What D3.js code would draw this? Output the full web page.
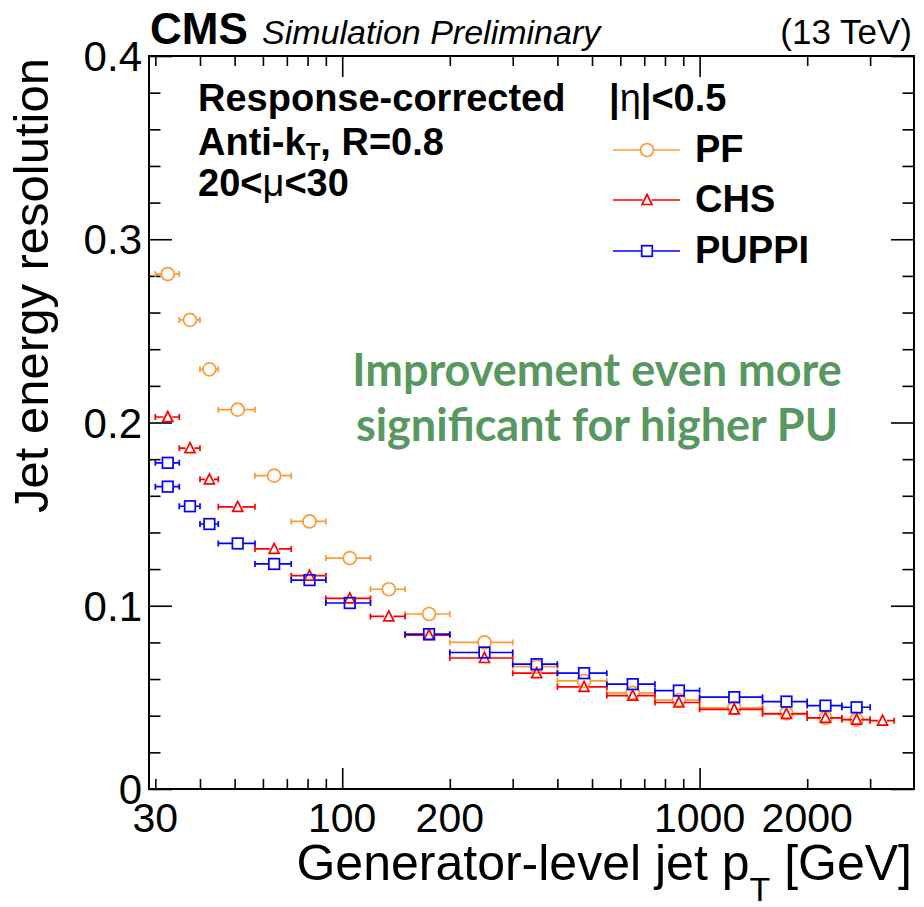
<!DOCTYPE html>
<html>
<head>
<meta charset="utf-8">
<script src="https://cdn.jsdelivr.net/npm/d3@7"></script>
<style>
  body { margin: 0; background: #fff; }
  svg text { font-family: "Liberation Sans", Arial, Helvetica, sans-serif; fill: #000; }
  .axis path { display: none; }
  .axis line { stroke: #000; stroke-width: 1.6; }
</style>
</head>
<body>
<div id="chart"></div>
<script>
// bin edges in generator-level pT [GeV]
var ptEdges = [30, 35, 40, 45, 57, 72, 90, 120, 150, 200, 300, 400, 550, 750, 1000, 1500, 2000, 2500, 3000, 3500];

// resolution per bin
var pfRes  = [0.281, 0.256, 0.229, 0.207, 0.171, 0.146, 0.126, 0.109, 0.0955, 0.080, 0.0668, 0.059, 0.0525, 0.0485, 0.0443, 0.0413, 0.0388, 0.0379];
var chsRes = [0.203, 0.186, 0.169, 0.154, 0.131, 0.1164, 0.104, 0.0942, 0.084, 0.0715, 0.0632, 0.0557, 0.051, 0.0472, 0.0435, 0.041, 0.0388, 0.0379, 0.0373];
var puppiBin = [0, 0, 1, 2, 3, 4, 5, 6, 8, 9, 10, 11, 12, 13, 14, 15, 16, 17];
var puppiRes = [0.178, 0.165, 0.1543, 0.1446, 0.134, 0.1228, 0.114, 0.1015, 0.0845, 0.0745, 0.0681, 0.0632, 0.0572, 0.0537, 0.0501, 0.0477, 0.0455, 0.0446];

// axis ticks
var xMajor  = [100, 1000];
var xMinor  = [30, 40, 50, 60, 70, 80, 90, 200, 300, 400, 500, 600, 700, 800, 900, 2000, 3000];
var xLabels = [30, 100, 200, 1000, 2000];
var yMajor  = [0, 0.1, 0.2, 0.3, 0.4];
var yMinor  = [0.02, 0.04, 0.06, 0.08, 0.12, 0.14, 0.16, 0.18, 0.22, 0.24, 0.26, 0.28, 0.32, 0.34, 0.36, 0.38];

var W = 924, H = 907;
var fL = 149, fR = 914, fT = 56, fB = 789;

var svg = d3.select("#chart").append("svg")
  .attr("width", W)
  .attr("height", H);

svg.append("rect").attr("width", W).attr("height", H).attr("fill", "#fff");

var x = d3.scaleLog().domain([28.8, 3980]).range([fL, fR]);
var y = d3.scaleLinear().domain([0, 0.4]).range([fB, fT]);

// ticks on all four sides, pointing inward
function ticks(axis, vals, size, tr) {
  svg.append("g")
    .attr("class", "axis")
    .attr("transform", tr)
    .call(axis.tickValues(vals).tickSize(-size).tickFormat(""));
}
ticks(d3.axisBottom(x), xMinor, 10, "translate(0," + fB + ")");
ticks(d3.axisBottom(x), xMajor, 21, "translate(0," + fB + ")");
ticks(d3.axisTop(x), xMinor, 10, "translate(0," + fT + ")");
ticks(d3.axisTop(x), xMajor, 21, "translate(0," + fT + ")");
ticks(d3.axisLeft(y), yMinor, 11.5, "translate(" + fL + ",0)");
ticks(d3.axisLeft(y), yMajor, 23, "translate(" + fL + ",0)");
ticks(d3.axisRight(y), yMinor, 11.5, "translate(" + fR + ",0)");
ticks(d3.axisRight(y), yMajor, 23, "translate(" + fR + ",0)");

svg.append("rect")
  .attr("x", fL).attr("y", fT)
  .attr("width", fR - fL).attr("height", fB - fT)
  .attr("fill", "none").attr("stroke", "#000").attr("stroke-width", 2);

// tick labels
svg.selectAll(".xl").data(xLabels).enter().append("text")
  .attr("x", function(d) { return x(d); })
  .attr("y", 832)
  .attr("text-anchor", "middle")
  .attr("font-size", 41)
  .text(function(d) { return d; });

svg.selectAll(".yl").data(yMajor).enter().append("text")
  .attr("x", 142)
  .attr("y", function(d) { return y(d) + 15; })
  .attr("text-anchor", "end")
  .attr("font-size", 42)
  .text(function(d) { return d === 0 ? "0" : d.toFixed(1); });

// axis titles
svg.append("text")
  .attr("transform", "translate(48,58) rotate(-90)")
  .attr("text-anchor", "end")
  .attr("font-size", 49)
  .text("Jet energy resolution");

var xt = svg.append("text")
  .attr("x", 912).attr("y", 880)
  .attr("text-anchor", "end")
  .attr("font-size", 50);
xt.append("tspan").text("Generator-level jet p");
xt.append("tspan").attr("font-size", 34).attr("dy", 21).text("T");
xt.append("tspan").attr("dy", -21).text(" [GeV]");

// header
svg.append("text").attr("x", 150).attr("y", 44)
  .attr("font-size", 44).attr("font-weight", "bold").text("CMS");
svg.append("text").attr("x", 262).attr("y", 44)
  .attr("font-size", 34).attr("font-style", "italic").text("Simulation Preliminary");
svg.append("text").attr("x", 912).attr("y", 44)
  .attr("text-anchor", "end").attr("font-size", 35).text("(13 TeV)");

// info text
svg.append("text").attr("x", 198).attr("y", 111)
  .attr("font-size", 38).attr("font-weight", "bold").text("Response-corrected");
var ak = svg.append("text").attr("x", 198).attr("y", 155)
  .attr("font-size", 38).attr("font-weight", "bold");
ak.append("tspan").text("Anti-k");
ak.append("tspan").attr("font-size", 24).attr("dy", 5).text("T");
ak.append("tspan").attr("dy", -5).text(", R=0.8");
var mu = svg.append("text").attr("x", 198).attr("y", 196)
  .attr("font-size", 38).attr("font-weight", "bold");
mu.append("tspan").text("20<");
mu.append("tspan").attr("font-weight", "normal").text("μ");
mu.append("tspan").text("<30");

var eta = svg.append("text").attr("x", 609).attr("y", 111)
  .attr("font-size", 38).attr("font-weight", "bold");
eta.append("tspan").text("|");
eta.append("tspan").attr("font-weight", "normal").text("η");
eta.append("tspan").text("|<0.5");

// marker shapes
function marker(sel, shape) {
  if (shape === "circle") {
    sel.append("circle").attr("r", 6.5);
  } else if (shape === "square") {
    sel.append("rect").attr("x", -5.3).attr("y", -5.3).attr("width", 10.6).attr("height", 10.6);
  } else {
    sel.append("path").attr("d", "M0,-5.5L5,4.5L-5,4.5Z");
  }
}
var gapOf = { circle: 6.5, square: 5.3, triangle: 4.5 };

var series = [
  { name: "PF", color: "#ff9933", shape: "circle",
    pts: pfRes.map(function(v, i) { return { lo: ptEdges[i], hi: ptEdges[i + 1], v: v }; }) },
  { name: "CHS", color: "#ff0000", shape: "triangle",
    pts: chsRes.map(function(v, i) { return { lo: ptEdges[i], hi: ptEdges[i + 1], v: v }; }) },
  { name: "PUPPI", color: "#0000ff", shape: "square",
    pts: puppiRes.map(function(v, i) { var b = puppiBin[i]; return { lo: ptEdges[b], hi: ptEdges[b + 1], v: v }; }) }
];

series.forEach(function(s) {
  var gap = gapOf[s.shape];
  var g = svg.append("g")
    .attr("stroke", s.color).attr("fill", "none").attr("stroke-width", 1.7);
  var p = g.selectAll("g").data(s.pts).enter().append("g")
    .attr("transform", function(d) { return "translate(" + x((d.lo + d.hi) / 2) + "," + y(d.v) + ")"; });
  p.append("path").attr("d", function(d) {
    var c = x((d.lo + d.hi) / 2), a = x(d.lo) - c, b = x(d.hi) - c;
    return "M" + a + ",0H" + (-gap) + "M" + gap + ",0H" + b +
      "M" + a + ",-3V3M" + b + ",-3V3";
  });
  marker(p, s.shape);
});

// legend
var legY = [150, 200, 251];
series.forEach(function(s, i) {
  var gap = gapOf[s.shape];
  var g = svg.append("g")
    .attr("transform", "translate(647," + legY[i] + ")")
    .attr("stroke", s.color).attr("fill", "none").attr("stroke-width", 1.7);
  g.append("path").attr("d", "M-34,0H" + (-gap) + "M" + gap + ",0H33");
  marker(g, s.shape);
  svg.append("text").attr("x", 695).attr("y", legY[i] + 12)
    .attr("font-size", 38).attr("font-weight", "bold").text(s.name);
});

// annotation
var note = ["Improvement even more", "significant for higher PU"];
svg.selectAll(".note").data(note).enter().append("text")
  .attr("x", 597)
  .attr("y", function(d, i) { return 386 + i * 55; })
  .attr("text-anchor", "middle")
  .style("font-family", "Lato, 'Open Sans', sans-serif")
  .style("fill", "#589860")
  .attr("font-size", 45)
  .attr("font-weight", "bold")
  .text(function(d) { return d; });
</script>
</body>
</html>
